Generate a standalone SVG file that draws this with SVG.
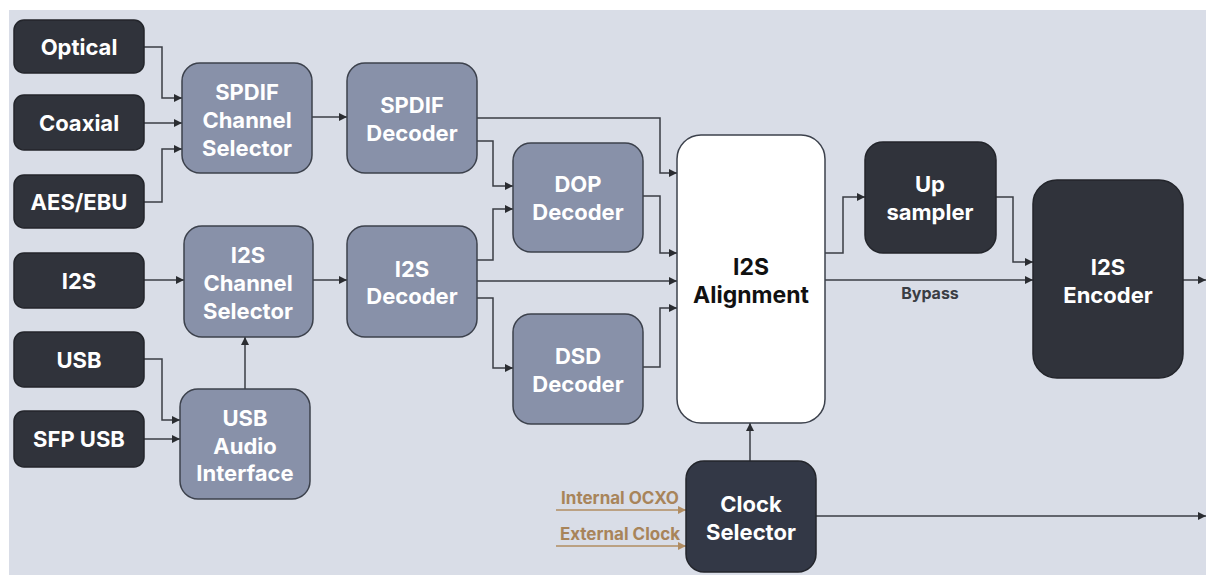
<svg xmlns="http://www.w3.org/2000/svg" width="1206" height="575" viewBox="0 0 1206 575">
<style>
.dark{fill:#30333b;stroke:#23252b;stroke-width:1.5}
.slate{fill:#8891a9;stroke:#3c414c;stroke-width:1.5}
.white{fill:#ffffff;stroke:#3c414c;stroke-width:1.5}
.t{font-family:Inter,"Liberation Sans",sans-serif;font-weight:700;font-size:22px;fill:#ffffff;text-anchor:middle}
.tb{font-family:Inter,"Liberation Sans",sans-serif;font-weight:700;font-size:23px;fill:#111111;text-anchor:middle}
.lbl{font-family:Inter,"Liberation Sans",sans-serif;font-weight:700;font-size:16px;fill:#3a3d44;text-anchor:middle}
.clk{font-family:Inter,"Liberation Sans",sans-serif;font-weight:700;font-size:17px;fill:#a8845a;text-anchor:middle}
.c{fill:none;stroke:#3a3d44;stroke-width:1.5}
.cb{fill:none;stroke:#b08c62;stroke-width:1.5}
</style>
<defs>
<marker id="ah" viewBox="0 0 10 10" refX="10" refY="5" markerWidth="8" markerHeight="8" markerUnits="userSpaceOnUse" orient="auto"><path d="M0,0 L10,5 L0,10 z" fill="#2a2c31"/></marker>
<marker id="ahb" viewBox="0 0 10 10" refX="10" refY="5" markerWidth="8" markerHeight="8" markerUnits="userSpaceOnUse" orient="auto"><path d="M0,0 L10,5 L0,10 z" fill="#b08c62"/></marker>
</defs>
<rect x="0" y="0" width="1206" height="575" fill="#ffffff"/>
<rect x="9" y="10" width="1197" height="565" fill="#d9dde7"/>

<g id="connectors">
<path class="c" d="M144,47 H162 V98 H182" marker-end="url(#ah)"/>
<path class="c" d="M144,123 H182" marker-end="url(#ah)"/>
<path class="c" d="M144,202 H162 V149 H182" marker-end="url(#ah)"/>
<path class="c" d="M312,117 H347" marker-end="url(#ah)"/>
<path class="c" d="M144,280 H184" marker-end="url(#ah)"/>
<path class="c" d="M313,280 H347" marker-end="url(#ah)"/>
<path class="c" d="M144,359 H162 V420 H180" marker-end="url(#ah)"/>
<path class="c" d="M144,439 H180" marker-end="url(#ah)"/>
<path class="c" d="M245,389 V337" marker-end="url(#ah)"/>
<path class="c" d="M477,118 H660 V173 H677" marker-end="url(#ah)"/>
<path class="c" d="M477,141 H493 V186 H513" marker-end="url(#ah)"/>
<path class="c" d="M477,260 H493 V209 H513" marker-end="url(#ah)"/>
<path class="c" d="M477,281 H677" marker-end="url(#ah)"/>
<path class="c" d="M477,298 H493 V368 H513" marker-end="url(#ah)"/>
<path class="c" d="M643,196 H660 V253 H677" marker-end="url(#ah)"/>
<path class="c" d="M643,367 H660 V308 H677" marker-end="url(#ah)"/>
<path class="c" d="M825,253 H843 V197 H865" marker-end="url(#ah)"/>
<path class="c" d="M825,280 H1033" marker-end="url(#ah)"/>
<text class="lbl" x="930" y="299">Bypass</text>
<path class="c" d="M996,197 H1013 V262 H1033" marker-end="url(#ah)"/>
<path class="c" d="M1183,280 H1206" marker-end="url(#ah)"/>
<path class="c" d="M750,461 V423" marker-end="url(#ah)"/>
<path class="c" d="M816,516 H1206" marker-end="url(#ah)"/>
<path class="cb" d="M556,510 H686" marker-end="url(#ahb)"/>
<path class="cb" d="M556,546 H686" marker-end="url(#ahb)"/>
<text class="clk" x="620" y="504">Internal OCXO</text>
<text class="clk" x="620" y="540">External Clock</text>
</g>

<g id="optical"><rect class="dark" x="14" y="20" width="130" height="53" rx="10"/><text class="t" x="79" y="55">Optical</text></g>
<g id="coaxial"><rect class="dark" x="14" y="95" width="130" height="55" rx="10"/><text class="t" x="79" y="131">Coaxial</text></g>
<g id="aesebu"><rect class="dark" x="14" y="175" width="130" height="53" rx="10"/><text class="t" x="79" y="210">AES/EBU</text></g>
<g id="i2s-in"><rect class="dark" x="14" y="253" width="130" height="55" rx="10"/><text class="t" x="79" y="289">I2S</text></g>
<g id="usb"><rect class="dark" x="14" y="332" width="130" height="55" rx="10"/><text class="t" x="79" y="368">USB</text></g>
<g id="sfpusb"><rect class="dark" x="14" y="411" width="130" height="56" rx="10"/><text class="t" x="79" y="447">SFP USB</text></g>

<g id="spdif-cs"><rect class="slate" x="182" y="63" width="130" height="110" rx="18"/>
<text class="t" x="247" y="100">SPDIF</text><text class="t" x="247" y="128">Channel</text><text class="t" x="247" y="156">Selector</text></g>
<g id="i2s-cs"><rect class="slate" x="184" y="226" width="129" height="111" rx="18"/>
<text class="t" x="248" y="263">I2S</text><text class="t" x="248" y="291">Channel</text><text class="t" x="248" y="319">Selector</text></g>
<g id="usb-ai"><rect class="slate" x="180" y="389" width="130" height="110" rx="18"/>
<text class="t" x="245" y="426">USB</text><text class="t" x="245" y="454">Audio</text><text class="t" x="245" y="481">Interface</text></g>

<g id="spdif-dec"><rect class="slate" x="347" y="63" width="130" height="110" rx="18"/>
<text class="t" x="412" y="113">SPDIF</text><text class="t" x="412" y="141">Decoder</text></g>
<g id="i2s-dec"><rect class="slate" x="347" y="226" width="130" height="111" rx="18"/>
<text class="t" x="412" y="277">I2S</text><text class="t" x="412" y="304">Decoder</text></g>
<g id="dop-dec"><rect class="slate" x="513" y="143" width="130" height="109" rx="18"/>
<text class="t" x="578" y="192">DOP</text><text class="t" x="578" y="220">Decoder</text></g>
<g id="dsd-dec"><rect class="slate" x="513" y="314" width="130" height="110" rx="18"/>
<text class="t" x="578" y="364">DSD</text><text class="t" x="578" y="392">Decoder</text></g>

<g id="i2s-align"><rect class="white" x="677" y="135" width="148" height="288" rx="24"/>
<text class="tb" x="751" y="275">I2S</text><text class="tb" x="751" y="303">Alignment</text></g>

<g id="upsampler"><rect class="dark" x="865" y="142" width="131" height="111" rx="18"/>
<text class="t" x="930" y="192">Up</text><text class="t" x="930" y="220">sampler</text></g>
<g id="i2s-enc"><rect class="dark" x="1033" y="180" width="150" height="198" rx="24"/>
<text class="t" x="1108" y="275">I2S</text><text class="t" x="1108" y="303">Encoder</text></g>

<g id="clock-sel"><rect x="686" y="461" width="130" height="111" rx="18" fill="#333846" stroke="#23252b" stroke-width="1.5"/>
<text class="t" x="751" y="512">Clock</text><text class="t" x="751" y="540">Selector</text></g>
</svg>
